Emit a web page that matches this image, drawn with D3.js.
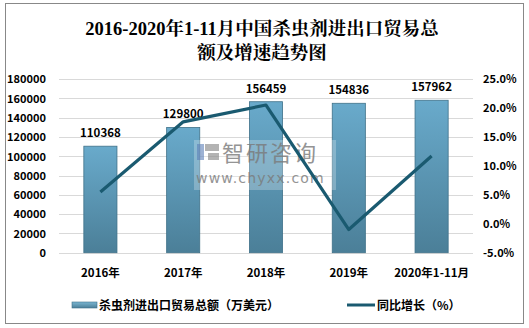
<!DOCTYPE html>
<html><head><meta charset="utf-8">
<script src="https://cdn.jsdelivr.net/npm/d3@7"></script>
<style>body{margin:0;background:#fff}svg{display:block}</style>
</head><body><svg id="c" width="529" height="328"></svg>
<script>
const categories = ["2016年","2017年","2018年","2019年","2020年1-11月"];
const tradeValues = [110368,129800,156459,154836,157962];
const growthPct = [5.5,17.6,20.5,-1.0,11.7];
const leftTicks = [0,20000,40000,60000,80000,100000,120000,140000,160000,180000];
const rightTicks = [-5,0,5,10,15,20,25];
const titleLines = ["2016-2020年1-11月中国杀虫剂进出口贸易总","额及增速趋势图"];
const legendLabels = ["杀虫剂进出口贸易总额（万美元）","同比增长（%）"];

const svg = d3.select("#c");
const sans = "'Microsoft YaHei','Noto Sans CJK SC',sans-serif";
svg.append("rect").attr("x",5.5).attr("y",3.5).attr("width",518).attr("height",320)
  .attr("fill","#fff").attr("stroke","#888").attr("stroke-width",1);

const defs = svg.append("defs");
const g1 = defs.append("linearGradient").attr("id","barg").attr("x1",0).attr("y1",0).attr("x2",0).attr("y2",1);
g1.append("stop").attr("offset","0%").attr("stop-color","#69aacb");
g1.append("stop").attr("offset","100%").attr("stop-color","#4b7f98");
const g2 = defs.append("linearGradient").attr("id","legg").attr("x1",0).attr("y1",0).attr("x2",0).attr("y2",1);
g2.append("stop").attr("offset","0%").attr("stop-color","#7ab6d2");
g2.append("stop").attr("offset","100%").attr("stop-color","#4b7f98");

// title
svg.append("g").selectAll("text").data(titleLines).join("text")
  .attr("x",262).attr("y",(d,i)=>35+i*24).attr("text-anchor","middle")
  .attr("font-family","'Liberation Serif','Noto Serif CJK SC','Noto Sans CJK SC',serif")
  .attr("font-size",18.5).attr("font-weight","bold").attr("fill","#000").text(d=>d);

const x = d3.scaleBand().domain(categories).range([59,473]).paddingInner(0.6).paddingOuter(0.3);
const yL = d3.scaleLinear().domain([0,180000]).range([252.7,79]);
const yR = d3.scaleLinear().domain([-5,25]).range([252.7,79]);

// gridlines
svg.append("g").selectAll("line").data(leftTicks).join("line")
  .attr("x1",59).attr("x2",473).attr("y1",d=>Math.round(yL(d))+0.5).attr("y2",d=>Math.round(yL(d))+0.5)
  .attr("stroke","#d9d9d9").attr("stroke-width",1);

// left axis
const axL = d3.axisLeft(yL).tickValues(leftTicks).tickSize(0).tickPadding(0).tickFormat(d3.format("d"));
const gL = svg.append("g").attr("transform","translate(46,0)").call(axL);
gL.select(".domain").remove();
gL.selectAll("text").attr("font-family",sans).attr("font-size",11).attr("fill","#000").attr("font-weight","bold").attr("dy","0.35em");

// right axis
const axR = d3.axisRight(yR).tickValues(rightTicks).tickSize(0).tickPadding(0).tickFormat(d=>d.toFixed(1)+"%");
const gR = svg.append("g").attr("transform","translate(483,0)").call(axR);
gR.select(".domain").remove();
gR.selectAll("text").attr("font-family",sans).attr("font-size",11).attr("fill","#000").attr("font-weight","bold").attr("dy","0.35em");

// bars
svg.append("g").selectAll("rect").data(tradeValues).join("rect")
  .attr("x",(d,i)=>x(categories[i])).attr("width",x.bandwidth())
  .attr("y",d=>yL(d)).attr("height",d=>yL(0)-yL(d))
  .attr("fill","url(#barg)").attr("stroke","#3f7189").attr("stroke-width",0.8);

// bar labels
svg.append("g").selectAll("text").data(tradeValues).join("text")
  .attr("x",(d,i)=>x(categories[i])+x.bandwidth()/2).attr("y",d=>yL(d)-9)
  .attr("text-anchor","middle").attr("font-family",sans).attr("font-size",11.5)
  .attr("font-weight","bold").attr("fill","#000").text(d=>d);

// watermark
const wm = svg.append("g");
wm.append("rect").attr("x",194).attr("y",140).attr("width",142).attr("height",50).attr("fill","#fff").attr("opacity",0.25);
wm.append("rect").attr("x",197).attr("y",144).attr("width",7).attr("height",16).attr("fill","#5b7fb8").attr("opacity",0.6);
wm.append("rect").attr("x",205).attr("y",144).attr("width",14).attr("height",7).attr("fill","#808080").attr("opacity",0.6);
wm.append("rect").attr("x",208).attr("y",153).attr("width",11).attr("height",7).attr("fill","#808080").attr("opacity",0.6);
wm.append("text").attr("x",222).attr("y",161).attr("font-family","'Noto Sans CJK SC',sans-serif")
  .attr("font-size",22).attr("fill","#7a7a7a").attr("opacity",0.8).attr("letter-spacing",2).text("智研咨询");
wm.append("text").attr("x",196).attr("y",183).attr("font-family","'DejaVu Sans',sans-serif")
  .attr("font-size",14).attr("fill","#7a7a7a").attr("opacity",0.8).attr("letter-spacing",1.2).text("www.chyxx.com");

// line
const line = d3.line().x((d,i)=>x(categories[i])+x.bandwidth()/2).y(d=>yR(d));
svg.append("path").datum(growthPct).attr("d",line).attr("fill","none")
  .attr("stroke","#1a5a70").attr("stroke-width",3.2).attr("stroke-linejoin","round");

// x labels
svg.append("g").selectAll("text").data(categories).join("text")
  .attr("x",d=>x(d)+x.bandwidth()/2).attr("y",277).attr("text-anchor","middle")
  .attr("font-family",sans).attr("font-size",11.5).attr("font-weight","bold").attr("fill","#000").text(d=>d);

// legend
svg.append("rect").attr("x",72).attr("y",302).attr("width",25).attr("height",6)
  .attr("fill","url(#legg)").attr("stroke","#3f7189").attr("stroke-width",0.6);
svg.append("text").attr("x",99).attr("y",309.5).attr("font-family",sans).attr("font-size",12)
  .attr("font-weight","bold").attr("fill","#000").text(legendLabels[0]);
svg.append("line").attr("x1",347).attr("x2",375).attr("y1",305).attr("y2",305)
  .attr("stroke","#1a5a70").attr("stroke-width",3);
svg.append("text").attr("x",377).attr("y",309.5).attr("font-family",sans).attr("font-size",12)
  .attr("font-weight","bold").attr("fill","#000").text(legendLabels[1]);
</script></body></html>
